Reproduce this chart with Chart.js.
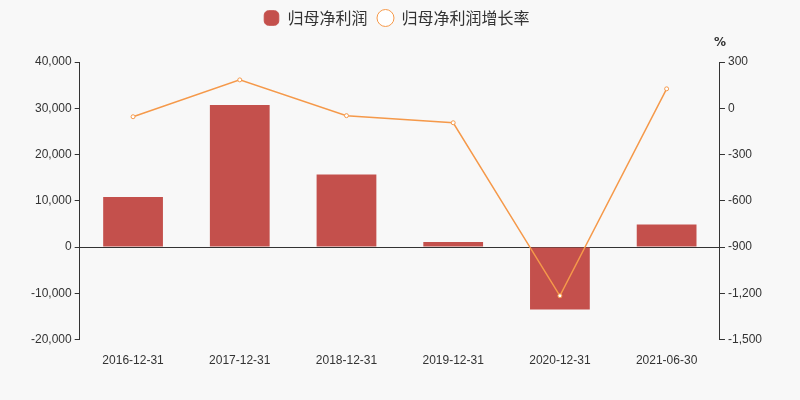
<!DOCTYPE html>
<html>
<head>
<meta charset="utf-8">
<script src="https://cdn.jsdelivr.net/npm/chart.js@4/dist/chart.umd.min.js"></script>
<style>
  body { margin: 0; background: #f8f8f8; }
  #wrap { width: 800px; height: 400px; }
</style>
</head>
<body>
<div id="wrap"><canvas id="chart"></canvas></div>
<script>
// 数据
const categories = ['2016-12-31', '2017-12-31', '2018-12-31', '2019-12-31', '2020-12-31', '2021-06-30'];
const profit = [10800, 30700, 15700, 1100, -13500, 4900];
const growthRate = [-55, 184, -48, -94, -1216, 126];

// 右轴上方的 % 标签
const percentLabel = {
    id: 'percentLabel',
    beforeInit(chart) {
        // 图例下方留出空间
        const fit = chart.legend.fit;
        chart.legend.fit = function () {
            fit.call(this);
            this.height += 26;
        };
    },
    afterDraw(chart) {
        const ctx = chart.ctx;
        const y1 = chart.scales.y1;
        ctx.save();
        ctx.font = 'bold 12px "DejaVu Sans"';
        ctx.fillStyle = '#333';
        ctx.textAlign = 'center';
        ctx.fillText('%', y1.left, 43);
        ctx.restore();
    }
};

new Chart(document.getElementById('chart').getContext('2d'), {
    type: 'bar',
    data: {
        labels: categories,
        datasets: [{
            label: '归母净利润',
            data: profit,
            backgroundColor: '#c4504c',
            barPercentage: 0.56,
            categoryPercentage: 1,
            yAxisID: 'y',
            order: 2
        }, {
            type: 'line',
            label: '归母净利润增长率',
            data: growthRate,
            borderColor: '#f5994a',
            backgroundColor: '#ffffff',
            borderWidth: 1.5,
            pointRadius: 2,
            pointBorderWidth: 1,
            tension: 0,
            yAxisID: 'y1',
            order: 1
        }]
    },
    options: {
        responsive: true,
        maintainAspectRatio: false,
        animation: false,
        layout: { padding: { left: 28, right: 35, top: 0, bottom: 26 } },
        plugins: {
            legend: {
                labels: {
                    usePointStyle: true,
                    font: { size: 16, family: 'Noto Sans CJK SC' },
                    color: '#333',
                    boxHeight: 12,
                    generateLabels(chart) {
                        return chart.data.datasets.map((ds, i) => ({
                            text: ds.label,
                            fillStyle: i === 0 ? ds.backgroundColor : '#fff',
                            strokeStyle: i === 0 ? ds.backgroundColor : ds.borderColor,
                            lineWidth: 1,
                            pointStyle: i === 0 ? 'rectRounded' : 'circle',
                            datasetIndex: i,
                            fontColor: '#333'
                        }));
                    }
                }
            },
            tooltip: { enabled: false }
        },
        scales: {
            x: {
                grid: { display: false },
                border: { display: false },
                ticks: { color: '#333', font: { size: 12 }, padding: 6 }
            },
            y: {
                position: 'left',
                min: -20000,
                max: 40000,
                ticks: {
                    stepSize: 10000,
                    color: '#333',
                    font: { size: 12 },
                    callback: v => v.toLocaleString('en-US')
                },
                grid: {
                    color: c => c.tick.value === 0 ? '#333' : 'transparent',
                    tickColor: '#333',
                    tickLength: 5
                },
                border: { display: true, color: '#333' }
            },
            y1: {
                position: 'right',
                min: -1500,
                max: 300,
                ticks: {
                    stepSize: 300,
                    color: '#333',
                    font: { size: 12 },
                    callback: v => v.toLocaleString('en-US')
                },
                grid: { drawOnChartArea: false, tickColor: '#333', tickLength: 5 },
                border: { display: true, color: '#333' }
            }
        }
    },
    plugins: [percentLabel]
});
</script>
</body>
</html>
